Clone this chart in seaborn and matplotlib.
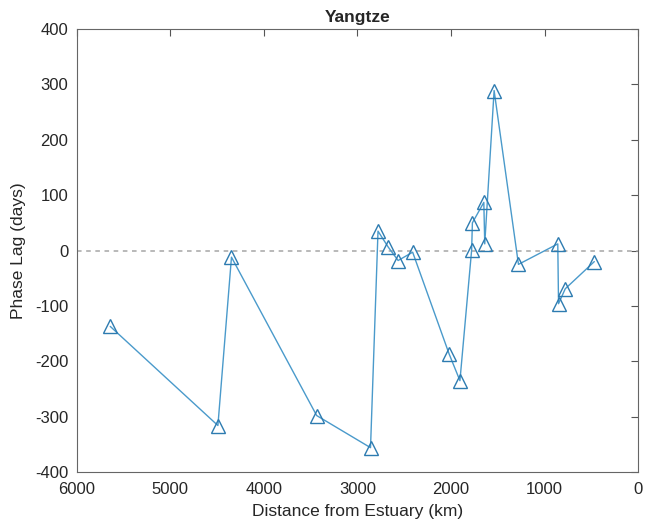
import pandas as pd
import seaborn as sns
import matplotlib
matplotlib.use("Agg")
import matplotlib.pyplot as plt

sns.set_style("white")
plt.rcParams["font.family"] = ["Liberation Sans", "DejaVu Sans"]
plt.rcParams["axes.unicode_minus"] = False

# stations along the river, in the order they are joined
distance_km = [5640, 4490, 4345, 3435, 2860, 2780, 2670, 2565, 2410, 2020, 1905,
               1780, 1772, 1650, 1640, 1540, 1280, 860, 852, 780, 470]
phase_lag = [-137, -316, -12, -298, -356, 35, 6, -18, -3, -187, -235,
             1, 50, 87, 12, 289, -25, 12, -96, -69, -20]

df = pd.DataFrame({"Distance from Estuary (km)": distance_km,
                   "Phase Lag (days)": phase_lag})

fig = plt.figure(figsize=(6.54, 5.28), dpi=100)
ax = fig.add_axes([0.117, 0.106, 0.859, 0.839])

ax.axhline(0, color="#a6a6a6", linestyle=(0, (3, 3)), linewidth=1.1, zorder=1)
sns.lineplot(x="Distance from Estuary (km)", y="Phase Lag (days)", data=df, sort=False,
             ax=ax, color="#4a9acb", linewidth=1.0, marker="^", markersize=10,
             markerfacecolor="none", markeredgecolor="#2d7bb0", markeredgewidth=1.0,
             zorder=3)

ax.set_xlim(6000, 0)
ax.set_ylim(-400, 400)
ax.set_xticks(range(6000, -1, -1000))
ax.set_yticks(range(-400, 401, 100))
ax.tick_params(direction="in", length=5, width=0.8, labelsize=12, colors="#555555",
               labelcolor="#262626", top=True, right=True)
ax.tick_params(axis="x", pad=7)
ax.tick_params(axis="y", pad=6)
for s in ax.spines.values():
    s.set_color("#666666")
    s.set_linewidth(0.8)
ax.set_xlabel("Distance from Estuary (km)", fontsize=12.5, color="#262626", labelpad=5)
ax.set_ylabel("Phase Lag (days)", fontsize=12.5, color="#262626", labelpad=6)
ax.set_title("Yangtze", fontsize=12.5, fontweight="bold", pad=5)

fig.savefig("out.png", dpi=100)
